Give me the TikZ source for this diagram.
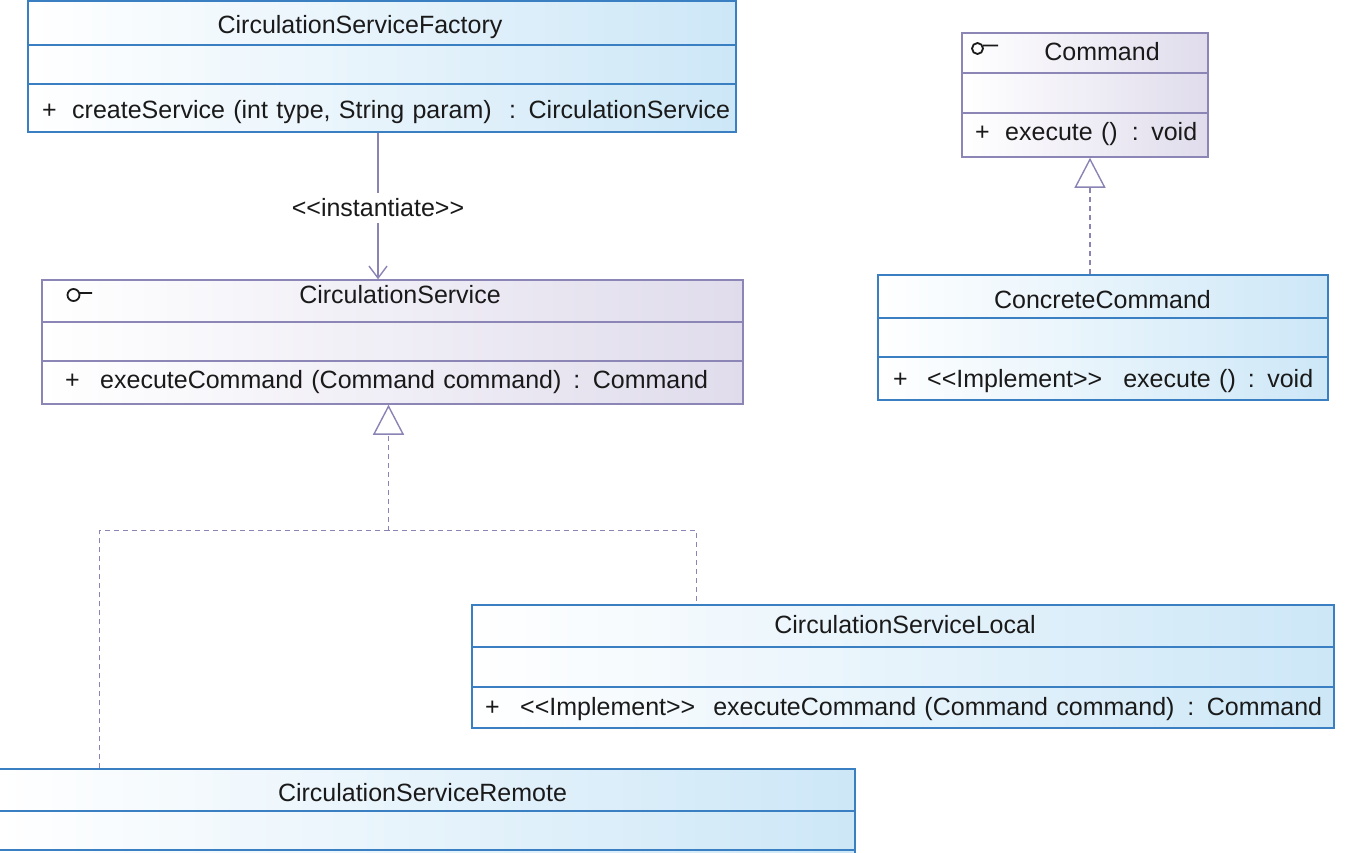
\documentclass[tikz,border=0pt]{standalone}
\usepackage{fontspec}
\setmainfont{Liberation Sans}
\usetikzlibrary{arrows.meta,calc}
\definecolor{bBorder}{HTML}{3A7FC1}
\definecolor{bFill}{HTML}{CDE7F7}
\definecolor{pBorder}{HTML}{8C86B6}
\definecolor{pFill}{HTML}{E0DCEC}
\definecolor{connC}{HTML}{8A84B4}
\definecolor{txtC}{HTML}{1A1A1A}
\newcommand\lsh{<{}<}
\newcommand\rsh{>{}>}
\newcommand\plusbox[1]{\makebox[#1][l]{+}}
\tikzset{
  blueclass/.style={rectangle, inner sep=0pt, draw=bBorder, line width=1.5pt, left color=white, right color=bFill},
  purpleclass/.style={rectangle, inner sep=0pt, draw=pBorder, line width=1.5pt, left color=white, right color=pFill},
  bsep/.style={draw=bBorder, line width=1.5pt},
  psep/.style={draw=pBorder, line width=1.5pt},
  txt/.style={font=\fontsize{25}{29}\selectfont, inner sep=0pt, text=txtC},
  ttxt/.style={txt, anchor=base},
  mtxt/.style={txt, anchor=base west, align=left},
  iface/.style={draw=txtC, line width=1.8pt},
  realize/.style={draw=connC, line width=1.4pt, dash pattern=on 5pt off 4pt},
  tri/.style={-{Triangle[open, length=30pt, width=31pt, line width=1.4pt, fill=white]}},
  dep/.style={draw=connC, line width=1.4pt, -{Straight Barb[length=12pt, width=18pt, line width=1.4pt]}},
}
\begin{document}
\begin{tikzpicture}[x=1pt,y=-1pt]
\useasboundingbox (0,0) rectangle (1346,852);
\fill[white] (0,0) rectangle (1346,852);

% CirculationServiceFactory
\node[blueclass, minimum width=708pt, minimum height=131pt] (factory) at (382,66.5) {};
\draw[bsep] (28,45) -- (736,45) (28,84) -- (736,84);
\node[ttxt] (factoryname) at (360,33) {CirculationServiceFactory};
\node[mtxt, text width=688pt] (factorym) at (42,118) {\plusbox{30pt}createService (int type, String param)\hfill: CirculationService};

% Command
\node[purpleclass, minimum width=246pt, minimum height=124pt] (cmd) at (1085,95) {};
\draw[psep] (962,73) -- (1208,73) (962,113) -- (1208,113);
\draw[iface] (977.5,48.5) circle (5.5pt) (983,45.5) -- (998,45.5);
\node[ttxt] (cmdname) at (1102,60) {Command};
\node[mtxt, text width=222pt] (cmdm) at (975,140) {\plusbox{30pt}execute ()\hfill: void};

% CirculationService
\node[purpleclass, minimum width=701pt, minimum height=124pt] (cs) at (392.5,342) {};
\draw[psep] (42,322) -- (743,322) (42,361) -- (743,361);
\draw[iface] (73.5,295) circle (6pt) (79.5,293) -- (92,293);
\node[ttxt] (csname) at (400,303) {CirculationService};
\node[mtxt, text width=643pt] (csm) at (65,388) {\plusbox{35pt}executeCommand (Command command)\hfill: Command};

% ConcreteCommand
\node[blueclass, minimum width=450pt, minimum height=125pt] (concrete) at (1103,337.5) {};
\draw[bsep] (878,318) -- (1328,318) (878,357) -- (1328,357);
\node[ttxt] (concretename) at (1102.5,308) {ConcreteCommand};
\node[mtxt, text width=420pt] (concretem) at (893,387) {\plusbox{34pt}\lsh Implement\rsh\hspace{21pt}execute ()\hfill: void};

% CirculationServiceLocal
\node[blueclass, minimum width=862pt, minimum height=123pt] (local) at (903,666.5) {};
\draw[bsep] (472,647) -- (1334,647) (472,687) -- (1334,687);
\node[ttxt] (localname) at (905,633) {CirculationServiceLocal};
\node[mtxt, text width=837pt] (localm) at (485,715) {\plusbox{35pt}\lsh Implement\rsh\hspace{18pt}executeCommand (Command command)\hfill: Command};

% CirculationServiceRemote
\node[blueclass, minimum width=857pt, minimum height=131pt] (remote) at (426.5,834.5) {};
\draw[bsep] (-2,811) -- (855,811) (-2,850) -- (855,850);
\node[ttxt] (remotename) at (422.5,801.5) {CirculationServiceRemote};

% instantiate dependency
\coordinate (instTop) at ($(factory.south)+(-4,0)$);
\draw[dep] (instTop) -- (instTop |- cs.north);
\path (instTop) -- node[txt, fill=white, inner ysep=6pt, inner xsep=2pt, yshift=-2pt] (instlabel) {\lsh instantiate\rsh} (instTop |- cs.north);

% Command realization
\coordinate (cmdTip) at ($(cmd.south)+(5,0)$);
\draw[realize, tri] (concrete.north -| cmdTip) -- (cmdTip);

% CirculationService realization
\coordinate (csTip) at ($(cs.south)+(-4,0)$);
\path (csTip) ++(0,126) coordinate (bus);
\draw[realize] ($(remote.north west)+(102,0)$) |- (bus) -| ($(local.north west)+(225,0)$);
\draw[realize, tri] (bus) -- (csTip);
\end{tikzpicture}
\end{document}
